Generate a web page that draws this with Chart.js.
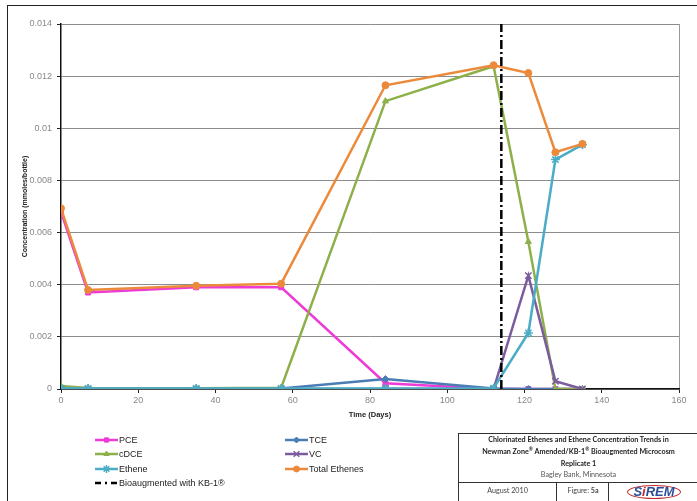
<!DOCTYPE html>
<html>
<head>
<meta charset="utf-8">
<script src="https://cdn.jsdelivr.net/npm/chart.js@4.4.1/dist/chart.umd.min.js"></script>
<style>
  html, body { margin: 0; padding: 0; background: #fff; overflow: hidden; }
  #wrap { position: relative; width: 697px; height: 501px; }
  #frame { position: absolute; left: 7px; top: 5px; width: 720px; height: 520px; border: 1.5px solid #222; box-sizing: border-box; }
  #myChart { position: absolute; left: 0; top: 0; }
  #tbox { position: absolute; left: 458px; top: 433px; width: 260px; height: 80px; border-left: 1px solid #333; border-top: 1px solid #333;
          font-family: "Lato", "DejaVu Sans", sans-serif; font-size: 7.2px; color: #222; }
  #tbox .t { position: absolute; left: 0; width: 239px; text-align: center; font-weight: bold; white-space: nowrap; }
  #tbox sup { font-size: 5px; }
  .cell { position: absolute; top: 48px; height: 30px; border-top: 1px solid #333; text-align: center; line-height: 16px; color: #444; }
</style>
</head>
<body>
<div id="wrap">
  <canvas id="myChart" width="697" height="501"></canvas>
  <div id="frame"></div>
  <div id="tbox">
    <div class="t" style="top:1px">Chlorinated Ethenes and Ethene Concentration Trends in</div>
    <div class="t" style="top:12px">Newman Zone<sup>®</sup> Amended/KB-1<sup>®</sup> Bioaugmented Microcosm</div>
    <div class="t" style="top:25px">Replicate 1</div>
    <div class="t" style="top:36px;font-weight:normal;color:#555">Bagley Bank, Minnesota</div>
    <div class="cell" style="left:0;width:97px">August 2010</div>
    <div class="cell" style="left:97px;width:52px;border-left:1px solid #333">Figure: <b>5a</b></div>
    <div class="cell" style="left:149px;width:90px;border-left:1px solid #333;font-family:'Liberation Sans',sans-serif;font-size:13px;font-weight:bold;font-style:italic;color:#2a4f9a">
      <span style="border:1.5px solid #c0282d;border-radius:50%;padding:0 5px;line-height:12px;display:inline-block;margin-top:2px">S<span style="color:#c0282d">i</span>REM</span>
    </div>
  </div>
</div>
<script>
// sampling days
var days = [0, 7, 35, 57, 84, 112, 121, 128, 135];

// concentrations (mmoles/bottle)
var pce    = [0.0068, 0.0037, 0.0039, 0.0039, 0.00022, 0, 0, 0, 0];
var tce    = [0.00005, 0.00002, 0.00002, 0.00002, 0.00038, 0.00002, 0, 0, 0];
var cdce   = [0.00012, 0.00004, 0.00003, 0.00005, 0.01104, 0.01238, 0.00565, 0, 0];
var vc     = [0, 0, 0, 0, 0, 0, 0.00435, 0.0003, 0];
var ethene = [0.00003, 0.00002, 0.00002, 0.00002, 0.00002, 0.00003, 0.00215, 0.0088, 0.00937];
var total  = [0.00693, 0.0038, 0.00396, 0.00404, 0.01165, 0.01242, 0.01212, 0.00908, 0.0094];

// day KB-1 was added
var augDay = 114;
var yTop = 0.014;

function pts(arr) {
  return days.map(function (d, i) { return { x: d, y: arr[i] }; });
}

function series(label, arr, color, style, order) {
  return {
    label: label, data: pts(arr), borderColor: color, backgroundColor: color,
    borderWidth: 2.5, pointStyle: style, pointRadius: style === 'star' || style === 'crossRot' ? 4.5 : 3.5,
    pointBorderWidth: style === 'star' || style === 'crossRot' ? 1.5 : 1, order: order, tension: 0
  };
}

var datasets = [
  series('PCE', pce, '#ee3bd6', 'rect', 6),
  series('TCE', tce, '#4a7db5', 'rectRot', 5),
  series('cDCE', cdce, '#8db04a', 'triangle', 4),
  series('VC', vc, '#7b5c9e', 'crossRot', 3),
  series('Ethene', ethene, '#4bacc6', 'star', 2),
  series('Total Ethenes', total, '#ec8a3c', 'circle', 1),
  {
    label: 'Bioaugmented with KB-1\u00AE', data: [{ x: augDay, y: 0 }, { x: augDay, y: yTop }],
    borderColor: '#000', borderWidth: 2.5, borderDash: [9, 3, 2, 3], pointRadius: 0, order: 0
  }
];

// legend drawn at fixed spots like the original
var legendPos = [[95, 440], [285, 440], [95, 454], [285, 454], [95, 469], [285, 469], [95, 483]];

var legendPlugin = {
  id: 'sideLegend',
  afterDraw: function (chart) {
    var ctx = chart.ctx;
    ctx.save();
    chart.data.datasets.forEach(function (ds, i) {
      var p = legendPos[i];
      ctx.strokeStyle = ds.borderColor;
      ctx.fillStyle = ds.borderColor;
      ctx.lineWidth = 2.5;
      ctx.setLineDash(ds.borderDash ? [6, 4, 2, 4] : []);
      ctx.beginPath();
      ctx.moveTo(p[0], p[1]);
      ctx.lineTo(p[0] + 23, p[1]);
      ctx.stroke();
      ctx.setLineDash([]);
      if (ds.pointStyle) {
        ctx.lineWidth = ds.pointBorderWidth;
        Chart.helpers.drawPoint(ctx, { pointStyle: ds.pointStyle, radius: ds.pointRadius - 0.5, rotation: 0, borderWidth: ds.pointBorderWidth }, p[0] + 11.5, p[1]);
      }
      ctx.fillStyle = '#222';
      ctx.font = '9px "Liberation Sans", Arial, sans-serif';
      ctx.textBaseline = 'middle';
      ctx.fillText(ds.label, p[0] + 24, p[1] + 0.5);
    });
    ctx.restore();
  }
};

new Chart(document.getElementById('myChart'), {
  type: 'line',
  data: { datasets: datasets },
  plugins: [legendPlugin],
  options: {
    responsive: false,
    animation: false,
    layout: { padding: { left: 0, top: 24, right: 18, bottom: 82 } },
    plugins: { legend: { display: false }, tooltip: { enabled: false } },
    scales: {
      x: {
        type: 'linear', min: 0, max: 160,
        ticks: { stepSize: 20, color: '#888', font: { size: 9, family: 'Liberation Sans' }, padding: 2 },
        grid: {
          color: function (c) { return c.tick && c.tick.value === 160 ? '#999' : 'transparent'; },
          tickColor: '#222', tickLength: 4
        },
        border: { color: '#111', width: 1.5 },
        title: { display: true, text: 'Time (Days)', color: '#222', font: { size: 7.5, weight: 'bold', family: 'Liberation Sans' }, padding: { top: 2, bottom: 0 } },
        afterFit: function (s) { s.height = 30; }
      },
      y: {
        min: 0, max: yTop,
        ticks: {
          stepSize: 0.002, color: '#888', font: { size: 9, family: 'Liberation Sans' }, padding: 5,
          callback: function (v) { return String(+v.toFixed(3)); }
        },
        grid: { color: '#8c8c8c', tickColor: '#222', tickLength: 4 },
        border: { color: '#111', width: 1.5 },
        title: { display: true, text: 'Concentration (mmoles/bottle)', color: '#222', font: { size: 7, weight: 'bold', family: 'Liberation Sans' }, padding: { top: 21, bottom: 0 } },
        afterFit: function (s) { s.width = 61; }
      }
    }
  }
});
</script>
</body>
</html>
